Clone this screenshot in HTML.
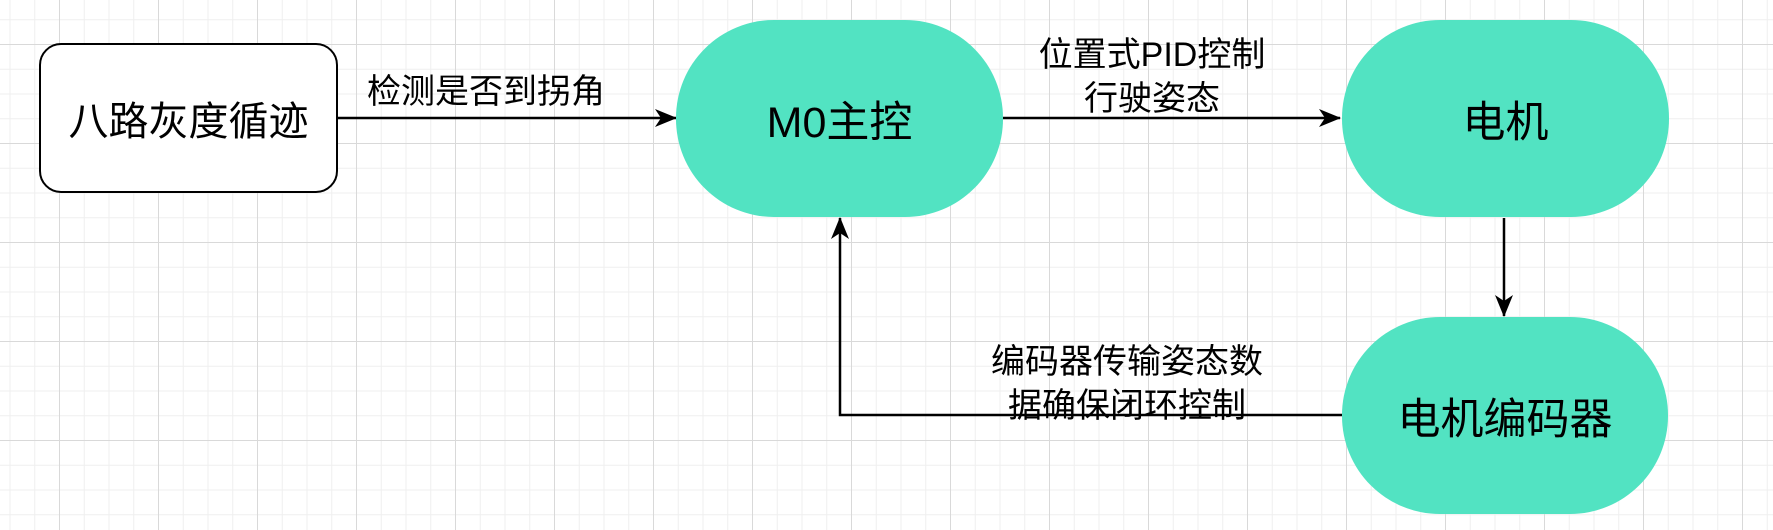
<!DOCTYPE html>
<html><head><meta charset="utf-8"><style>
html,body{margin:0;padding:0}
body{width:1773px;height:530px;position:relative;overflow:hidden;background:#fff;
background-image:
linear-gradient(to right,#d9d9d9 1px,transparent 1px),
linear-gradient(to bottom,#d9d9d9 1px,transparent 1px),
linear-gradient(to right,#efefef 1px,transparent 1px),
linear-gradient(to bottom,#efefef 1px,transparent 1px);
background-size:99px 99px,99px 99px,24.75px 24.75px,24.75px 24.75px;
background-position:59px 44px,59px 44px,59px 44px,59px 44px;
font-family:"Liberation Sans","Noto Sans CJK SC",sans-serif;}
.n{position:absolute;display:flex;align-items:center;justify-content:center;font-size:40px;color:#000;box-sizing:border-box}
.g{background:#52e3c2;border-radius:98px/98px;font-size:43px}
.t{position:absolute;font-size:34px;line-height:44px;text-align:center;white-space:nowrap;transform:translateX(-50%)}
</style></head><body>
<svg width="1773" height="530" style="position:absolute;left:0;top:0">
<defs><marker id="a" markerWidth="22" markerHeight="18" refX="21" refY="9" orient="auto" markerUnits="userSpaceOnUse" viewBox="0 0 22 18"><path d="M0,0 L22,9 L0,18 L6,9 z" fill="#000"/></marker></defs>
<g stroke="#000" stroke-width="2.5" fill="none">
<line x1="338" y1="118" x2="676" y2="118" marker-end="url(#a)"/>
<line x1="1003" y1="118" x2="1340" y2="118" marker-end="url(#a)"/>
<line x1="1504" y1="218" x2="1504" y2="316" marker-end="url(#a)"/>
<polyline points="1342,415 840,415 840,218" marker-end="url(#a)"/>
</g>
</svg>
<div class="n" style="left:39px;top:43px;width:299px;height:150px;border:2.5px solid #000;border-radius:22px;background:#fff">八路灰度循迹</div>
<div class="n g" style="left:676px;top:20px;width:327px;height:197px">M0主控</div>
<div class="n g" style="left:1342px;top:20px;width:327px;height:197px">电机</div>
<div class="n g" style="left:1342px;top:317px;width:326px;height:197px">电机编码器</div>
<div class="t" style="left:486px;top:70px">检测是否到拐角</div>
<div class="t" style="left:1152px;top:33px">位置式PID控制<br>行驶姿态</div>
<div class="t" style="left:1127px;top:340px">编码器传输姿态数<br>据确保闭环控制</div>
</body></html>
